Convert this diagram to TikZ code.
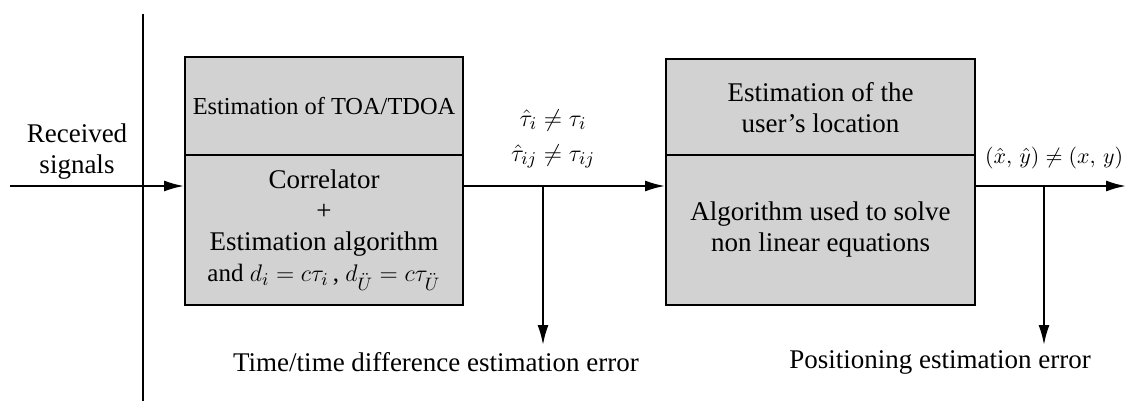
\documentclass[tikz,border=0pt]{standalone}
\usepackage{amsmath}
\usepackage{amssymb}
\usepackage{fontspec}
\setmainfont{Liberation Serif}
\usetikzlibrary{arrows.meta}

\begin{document}
\begin{tikzpicture}[x=0.5pt,y=-0.5pt,line width=1pt,
  font=\fontsize{13.5}{15.5}\selectfont,
  >={Latex[length=10pt,width=5.5pt]},
  blk/.style={draw,fill=gray!35,inner sep=0pt,align=center}]
\useasboundingbox (0,0) rectangle (1126,401);
% boxes
\node[blk,minimum width=139pt,minimum height=49pt,font=\fontsize{12.2}{14}\selectfont] (ltop) at (324,106) {Estimation of TOA/TDOA};
\node[blk,minimum width=139pt,minimum height=75pt] (lbot) at (324,230) {Correlator\\+\\Estimation algorithm\\{\fontsize{12.5}{15.5}\selectfont and $d_i = c\tau_i$\,, $d_{\ddot{U}} = c\tau_{\ddot{U}}$}};
\node[blk,minimum width=154.5pt,minimum height=49pt] (rtop) at (820.5,108) {Estimation of the\\user's location};
\node[blk,minimum width=154.5pt,minimum height=75pt] (rbot) at (820.5,230) {Algorithm used to solve\\non linear equations};
% input
\node[align=center] (recv) at (77,152) {Received\\signals};
\coordinate (in) at (10,186);
\draw (143,14) -- (143,401);
\draw[->] (in) -- (in -| lbot.west);
% middle
\coordinate (m1) at (463,186);
\draw[->] (m1) -- (m1 -| rbot.west);
\node[align=center,font=\fontsize{12.5}{15.5}\selectfont] (tau) at (553,139) {$\hat{\tau}_i \neq \tau_i$\\[2pt]$\hat{\tau}_{ij} \neq \tau_{ij}$};
\coordinate (t1) at (543,186);
\coordinate (t2) at (543,345);
\draw[->] (t1) -- (t2);
\node (err1) at (436,362) {Time/time difference estimation error};
% output
\coordinate (m2) at (975,186);
\coordinate (out) at (1126,186);
\draw[->] (m2) -- (out);
\node[anchor=west,inner sep=0pt,font=\fontsize{10.5}{12}\selectfont] (pos) at (984,158) {$(\hat{x},\,\hat{y}) \neq (x,\,y)$};
\coordinate (p1) at (1044,186);
\coordinate (p2) at (1044,345);
\draw[->] (p1) -- (p2);
\node (err2) at (940,362) {Positioning estimation error};
\end{tikzpicture}
\end{document}
